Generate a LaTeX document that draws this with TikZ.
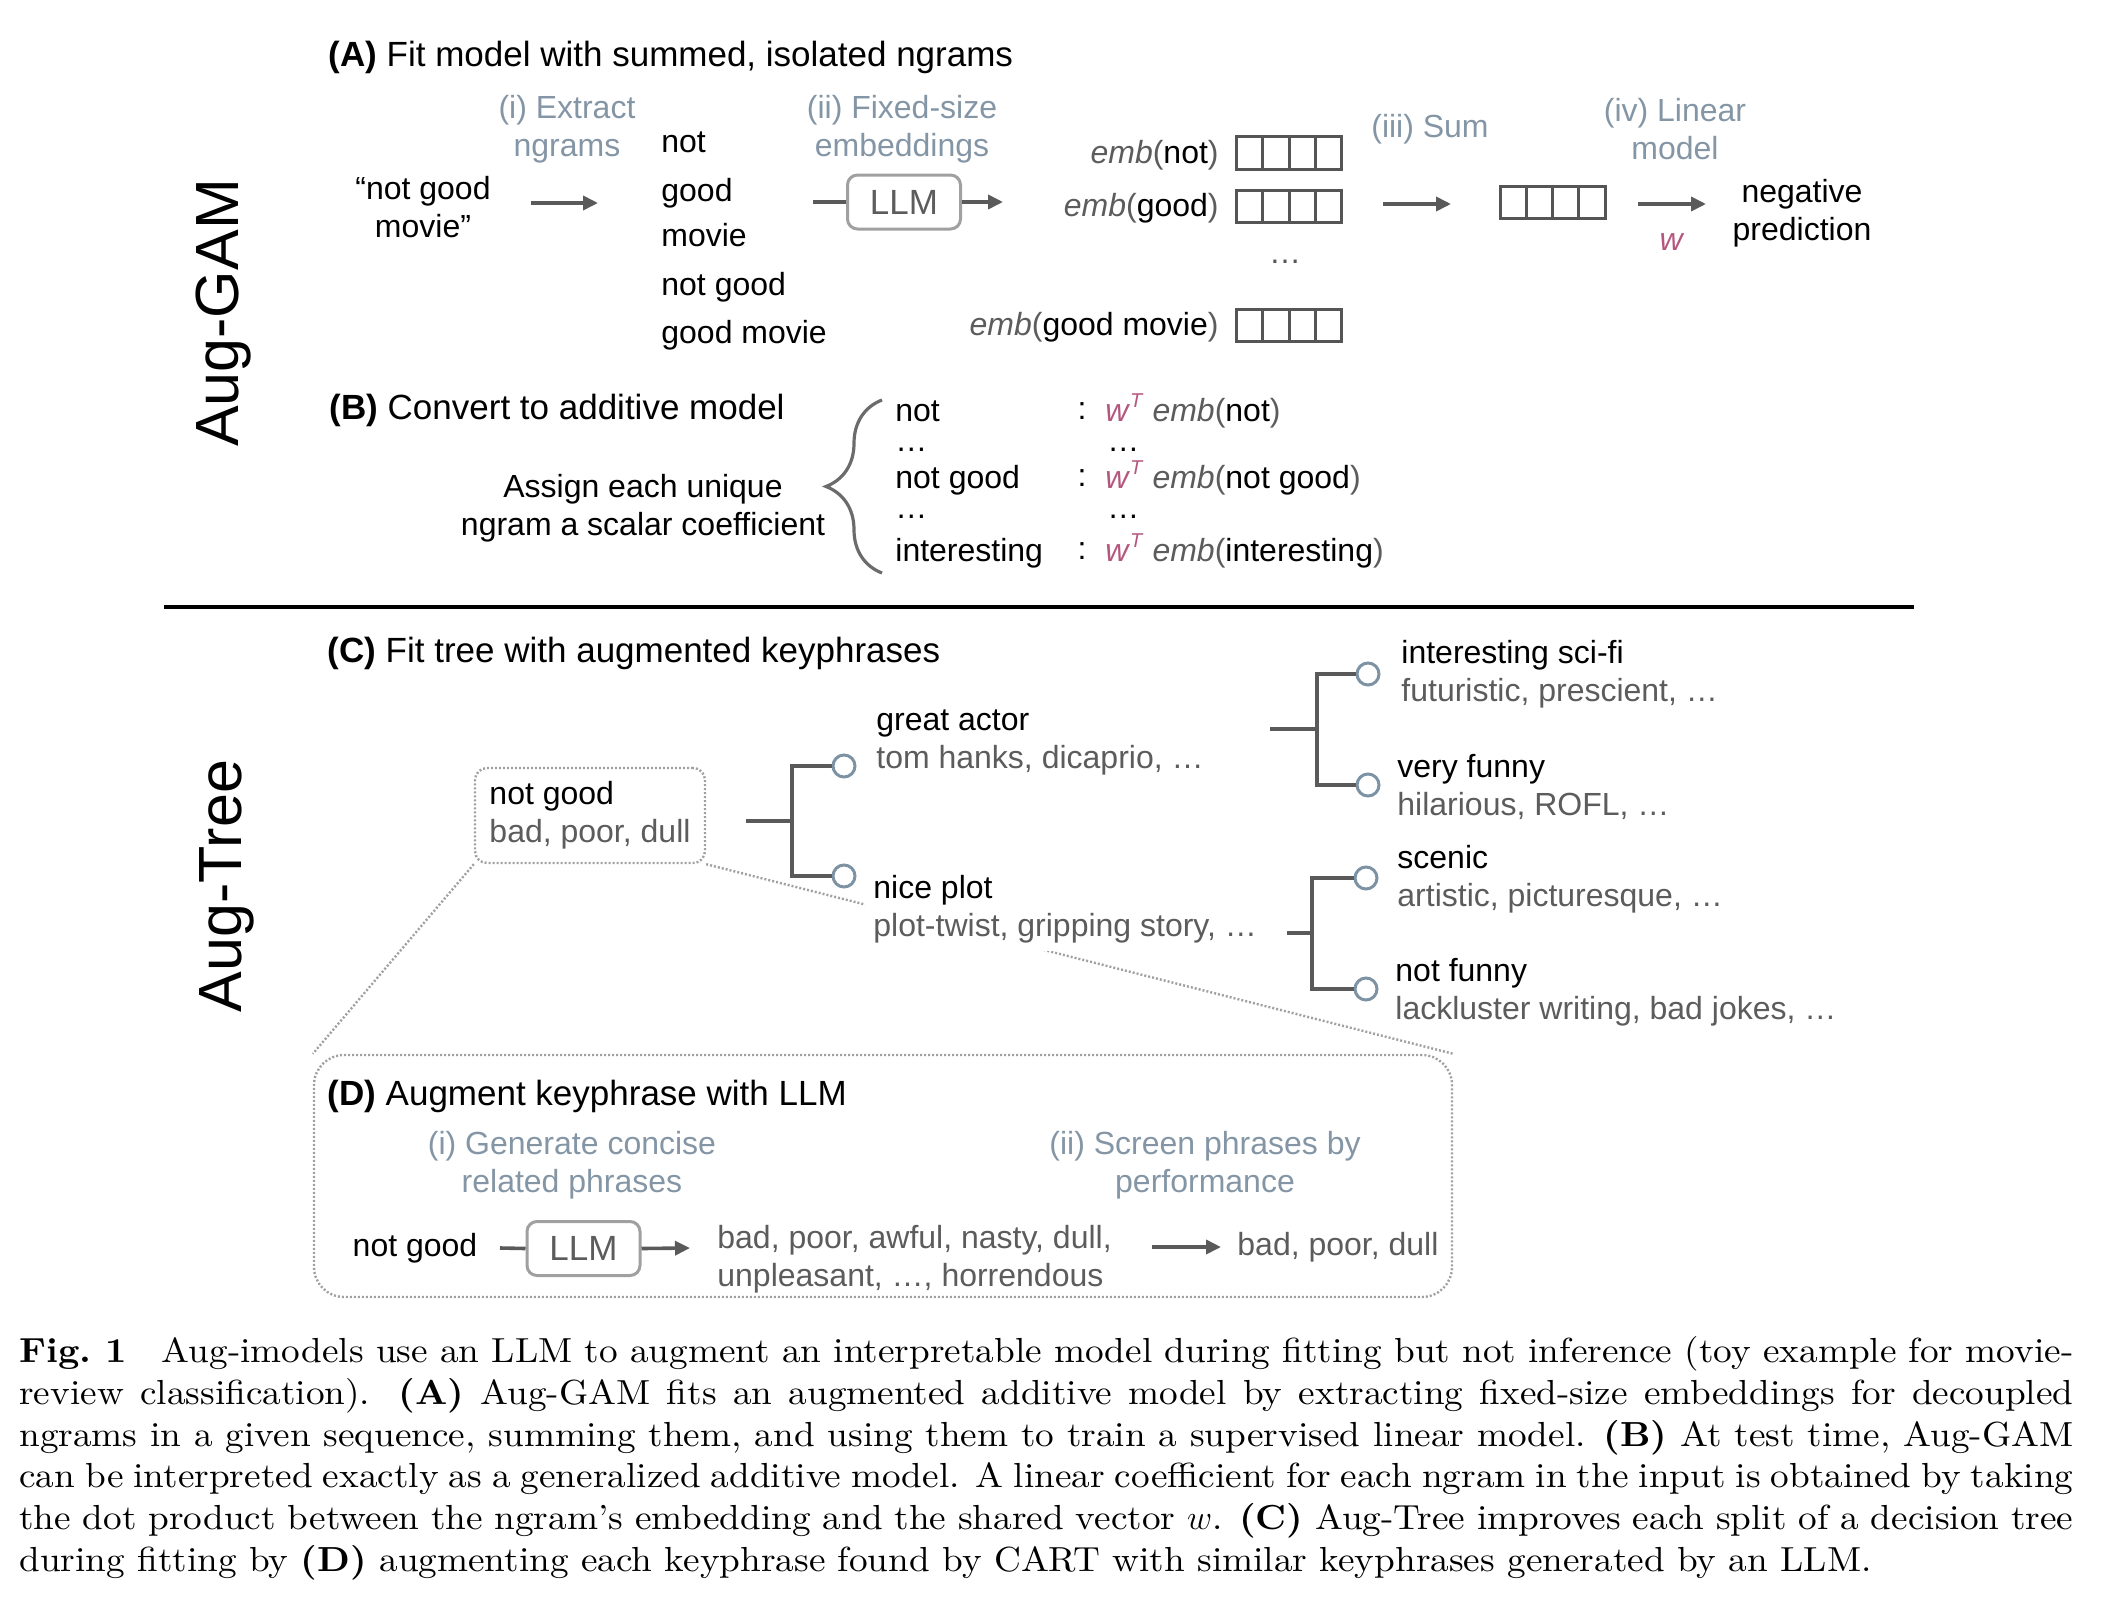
\documentclass[tikz,border=0pt]{standalone}
\usepackage{fontspec}
\setsansfont{Liberation Sans}
\newfontfamily\capfont{lmroman10-regular.otf}[Ligatures=TeX,FakeStretch=1.07,BoldFont=lmroman10-bold.otf,ItalicFont=lmroman10-italic.otf]
\usetikzlibrary{arrows.meta,calc,decorations.pathreplacing}
\definecolor{labc}{HTML}{8496A5}
\definecolor{circc}{HTML}{7D93A4}
\definecolor{wcol}{HTML}{B4577E}
\definecolor{linec}{HTML}{5A5A5A}
\definecolor{gtext}{HTML}{5C5C5C}
\definecolor{llmb}{HTML}{A0A0A0}
\definecolor{dotc}{HTML}{A0A0A0}
\definecolor{vecc}{HTML}{555555}
\newcommand\embx[1]{{\color{gtext}\textit{emb}(}#1{\color{gtext})}}
\newcommand\wTx{{\color{wcol}\textit{w}\raisebox{0.42em}{\fontsize{10}{10}\selectfont\textit{T}}}}
\begin{document}
\begin{tikzpicture}[x=0.5pt,y=-0.5pt,
  base/.style={font=\sffamily\fontsize{16}{19}\selectfont, inner sep=0pt},
  one/.style={base, text height=0.9em, text depth=0.1em},
  ttl/.style={font=\sffamily\fontsize{17.5}{21}\selectfont, inner sep=0pt, text height=0.95em, text depth=0.05em, anchor=west},
  lab/.style={base, text=labc, align=center},
  two/.style={base, align=left, anchor=west},
  vert/.style={font=\sffamily\fontsize{30.5}{34}\selectfont, rotate=90, inner sep=0pt},
  arr/.style={draw=linec, line width=1.8pt, -{Triangle[length=7.5pt,width=7pt]}},
  ln/.style={draw=linec, line width=1.8pt},
  treeln/.style={draw=linec, line width=2pt},
  leaf/.style={circle, draw=circc, line width=1.5pt, minimum size=11pt, inner sep=0pt, fill=white},
  llm/.style={draw=llmb, line width=1.5pt, rounded corners=5pt, minimum width=56.5pt, minimum height=27pt, inner sep=0pt, text=gtext, font=\sffamily\fontsize{17.5}{20}\selectfont},
  vec/.style={draw=vecc, line width=1.5pt, minimum width=52.5pt, minimum height=16pt, inner sep=0pt,
    path picture={\foreach \k in {1,2,3}{\draw[vecc,line width=1.5pt] ($(path picture bounding box.south west)!\k/4!(path picture bounding box.south east)$) -- ($(path picture bounding box.north west)!\k/4!(path picture bounding box.north east)$);}}},
  dotbox/.style={draw=dotc, line width=1.2pt, dash pattern=on 1pt off 1pt, rounded corners=6pt},
  zoomln/.style={draw=dotc, line width=1.2pt, dash pattern=on 1pt off 1pt},
  brc/.style={draw=linec!90, line width=1.6pt, decorate, decoration={brace, amplitude=28pt}}
]
\useasboundingbox (0,0) rectangle (2114,1600);

% side labels
\node[vert] (gam) at (224,313) {Aug-GAM};
\node[vert] (augtree) at (227,886) {Aug-Tree};

% ---------------- (A)
\node[ttl] (tA) at (328,58) {\textbf{(A)} Fit model with summed, isolated ngrams};
\node[lab] (ex) at (567,129) {(i) Extract\\ngrams};
\node[base, align=center] (inp) at (423,207) {“not good\\movie”};
\coordinate (a1s) at (531,203);
\coordinate (a1e) at (598,203);
\draw[arr] (a1s) -- (a1e);

\node[one, anchor=west] (n1) at (661,145) {not};
\node[one, anchor=west] (n2) at (661,193) {good};
\node[one, anchor=west] (n3) at (661,238) {movie};
\node[one, anchor=west] (n4) at (661,287) {not good};
\node[one, anchor=west] (n5) at (661,335) {good movie};

\node[lab] (fx) at (902,129) {(ii) Fixed-size\\embeddings};
\coordinate (li1) at (813,202);
\node[llm] (llm1) at (904,202) {LLM};
\coordinate (lo1) at (1003,202);
\draw[ln] (li1) -- (llm1.west);
\draw[arr] (llm1.east) -- (lo1);

\node[one, anchor=east] (m1) at (1219,155) {\embx{not}};
\node[one, anchor=east] (m2) at (1219,208) {\embx{good}};
\node[one, anchor=east] (m3) at (1219,327) {\embx{good movie}};
\node[vec] (e1) at (1289,153) {};
\node[vec] (e2) at (1289,206.5) {};
\node[vec] (e3) at (1289,325.5) {};
\node[base, text=vecc] (dA) at (1285,262) {…};

\node[lab] (sumlab) at (1430,129) {(iii) Sum};
\coordinate (a2s) at (1383,204);
\coordinate (a2e) at (1451,204);
\draw[arr] (a2s) -- (a2e);
\node[vec] (es) at (1552.5,202) {};

\node[lab] (linlab) at (1675,129) {(iv) Linear\\model};
\coordinate (a3s) at (1638,204);
\coordinate (a3e) at (1706,204);
\draw[arr] (a3s) -- (a3e);
\node[one, text=wcol] (wl) at (1672,242) {\textit{w}};
\node[base, align=center] (pred) at (1802,213) {negative\\prediction};

% ---------------- (B)
\node[ttl] (tB) at (329,410) {\textbf{(B)} Convert to additive model};
\node[base, align=center] (assign) at (643,508) {Assign each unique\\ngram a scalar coefficient};
\coordinate (brB) at (882,573);
\coordinate (brT) at (882,400);
\draw[brc] (brB) -- (brT);

\node[one, anchor=west] (k1) at (895,413) {not};
\node[base, anchor=west] (k2) at (895,450) {…};
\node[one, anchor=west] (k3) at (895,480) {not good};
\node[base, anchor=west] (k4) at (895,517) {…};
\node[one, anchor=west] (k5) at (895,553) {interesting};
\node[one] (q1) at (1082,411) {:};
\node[one] (q3) at (1082,478) {:};
\node[one] (q5) at (1082,551) {:};
\node[one, anchor=west] (r1) at (1105,413) {\wTx\ \embx{not}};
\node[base, anchor=west] (r2) at (1107,450) {…};
\node[one, anchor=west] (r3) at (1105,480) {\wTx\ \embx{not good}};
\node[base, anchor=west] (r4) at (1107,517) {…};
\node[one, anchor=west] (r5) at (1105,553) {\wTx\ \embx{interesting}};

% separator
\coordinate (ruleL) at (164,607);
\coordinate (ruleR) at (1914,607);
\draw[line width=1.6pt] (ruleL) -- (ruleR);

% ---------------- (C)
\node[ttl] (tC) at (327,653) {\textbf{(C)} Fit tree with augmented keyphrases};
\node[dotbox, base, align=left, minimum width=115pt, minimum height=47.5pt] (ngbox) at (590,815.5) {not good\\{\color{gtext}bad, poor, dull}};

% D box (defined early for zoom lines)
\node[dotbox, rounded corners=15pt, minimum width=569pt, minimum height=121pt] (Dbox) at (883,1176) {};
\draw[zoomln] (ngbox.south west) -- (Dbox.north west);
\draw[zoomln] (ngbox.south east) -- (Dbox.north east);

% tree 1
\node[leaf] (c1) at (844,766) {};
\node[leaf] (c2) at (844,876) {};
\coordinate (s1) at (746,821);
\coordinate (j1) at (792,821);
\draw[treeln] (s1) -- (j1);
\draw[treeln] (c1) -| (j1) |- (c2);
\node[two] (l1) at (876,742) {great actor\\{\color{gtext}tom hanks, dicaprio, …}};
\node[two, fill=white, inner sep=4pt] (l2) at (865,909) {nice plot\\{\color{gtext}plot-twist, gripping story, …}};

% tree 2
\node[leaf] (c3) at (1368,674) {};
\node[leaf] (c4) at (1368,785) {};
\coordinate (s2) at (1270,729);
\coordinate (j2) at (1317,729);
\draw[treeln] (s2) -- (j2);
\draw[treeln] (c3) -| (j2) |- (c4);
\node[two] (l3) at (1401,674) {interesting sci-fi\\{\color{gtext}futuristic, prescient, …}};
\node[two] (l4) at (1397,787) {very funny\\{\color{gtext}hilarious, ROFL, …}};

% tree 3
\node[leaf] (c5) at (1366,878) {};
\node[leaf] (c6) at (1366,989) {};
\coordinate (s3) at (1287,933);
\coordinate (j3) at (1312,933);
\draw[treeln] (s3) -- (j3);
\draw[treeln] (c5) -| (j3) |- (c6);
\node[two] (l5) at (1397,879) {scenic\\{\color{gtext}artistic, picturesque, …}};
\node[two] (l6) at (1395,992) {not funny\\{\color{gtext}lackluster writing, bad jokes, …}};

% ---------------- (D)
\node[ttl] (tD) at (327,1096) {\textbf{(D)} Augment keyphrase with LLM};
\node[lab] (gen) at (572,1165) {(i) Generate concise\\related phrases};
\node[lab] (scr) at (1205,1165) {(ii) Screen phrases by\\performance};
\node[one] (ng2) at (415,1248) {not good};
\coordinate (li2) at (500,1248);
\node[llm] (llm2) at (583.5,1248.5) {LLM};
\coordinate (lo2) at (690,1248);
\draw[ln] (li2) -- (llm2.west);
\draw[arr] (llm2.east) -- (lo2);
\node[two, text=gtext] (cands) at (717,1259) {bad, poor, awful, nasty, dull,\\unpleasant, …, horrendous};
\coordinate (a4s) at (1152,1247);
\coordinate (a4e) at (1221,1247);
\draw[arr] (a4s) -- (a4e);
\node[one, anchor=west, text=gtext] (final) at (1237,1247) {bad, poor, dull};

% ---------------- caption
\node[anchor=north west, inner sep=0pt, text width=1027pt, align=justify, font=\capfont\fontsize{17.4}{20.9}\selectfont] (cap) at (19,1336) {\textbf{Fig.~1}\quad Aug-imodels use an LLM to augment an interpretable model during fitting but not inference (toy example for movie-\linebreak
review classification). \textbf{(A)} Aug-GAM fits an augmented additive model by extracting fixed-size embeddings for decoupled\linebreak
ngrams in a given sequence, summing them, and using them to train a supervised linear model. \textbf{(B)} At test time, Aug-GAM\linebreak
can be interpreted exactly as a generalized additive model. A linear coefficient for each ngram in the input is obtained by taking\linebreak
the dot product between the ngram's embedding and the shared vector $w$. \textbf{(C)} Aug-Tree improves each split of a decision tree\linebreak
during fitting by \textbf{(D)} augmenting each keyphrase found by CART with similar keyphrases generated by an LLM.};
\end{tikzpicture}
\end{document}
